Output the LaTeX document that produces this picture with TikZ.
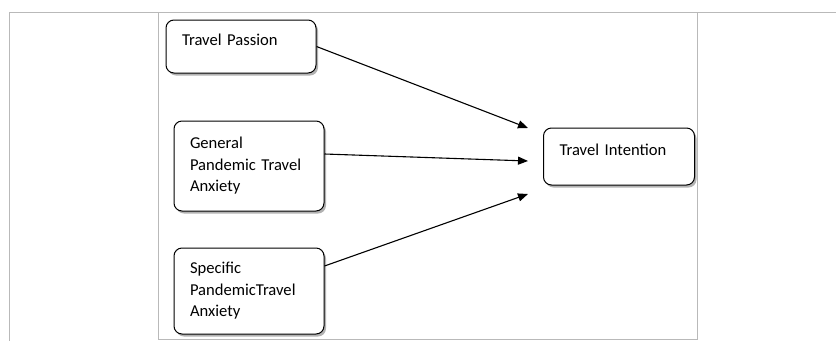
\documentclass[tikz,border=0pt]{standalone}
\usepackage{fontspec}
\setmainfont{Carlito}[WordSpace=0.8]
\usetikzlibrary{arrows.meta,shadows}

\begin{document}
\begin{tikzpicture}[x=1pt,y=-1pt,>={Triangle[length=10pt,width=8pt]},
  factor/.style={draw,line width=1pt,rounded corners=8pt,fill=white,text width=#1,align=left,
    inner xsep=16pt,font=\fontsize{16.6}{21.5}\selectfont,
    drop shadow={shadow xshift=2pt,shadow yshift=-2.5pt,fill=gray!60,opacity=1}},
  factor/.default=118pt,
  link/.style={line width=1.1pt,->},
  frame/.style={gray!55,line width=0.8pt}]
 \useasboundingbox (0,0) rectangle (836,341);
 \draw[frame] (836,12)--(9,12)--(9,341);
 \draw[frame] (158,12)--(158,339)--(697,339)--(697,12);
 \node[factor,minimum height=53pt,text depth=14pt] (tp) at (241,46.5) {Travel Passion};
 \node[factor,minimum height=90pt] (gpta) at (249,166) {General\\Pandemic Travel\\Anxiety};
 \node[factor,minimum height=86pt] (spta) at (249,291) {Specific\\PandemicTravel\\Anxiety};
 \node[factor=119pt,minimum height=57pt,text depth=14pt] (ti) at (619,156.5) {Travel Intention};
 \coordinate (h1) at (528,128);
 \coordinate (h2) at (528,161);
 \coordinate (h3) at (528,194);
 \draw[link] (tp.east)--(h1);
 \draw[link] ([yshift=12pt]gpta.east)--(h2);
 \draw[link] ([yshift=25pt]spta.east)--(h3);
\end{tikzpicture}
\end{document}
